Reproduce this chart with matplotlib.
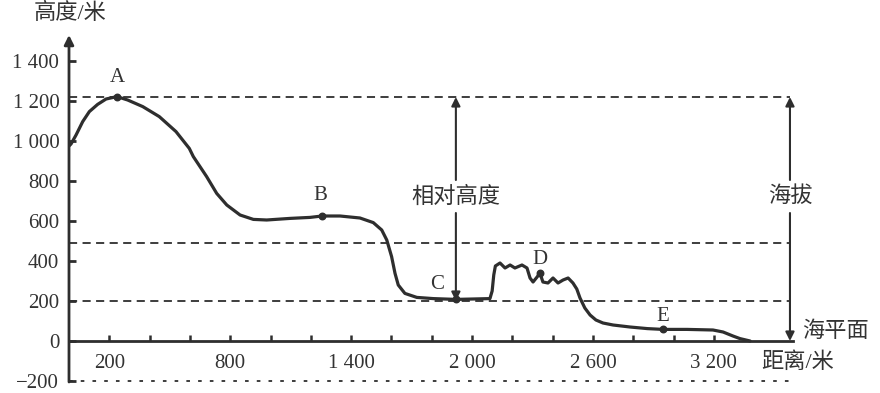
import matplotlib
matplotlib.use('Agg')
import matplotlib.pyplot as plt

plt.rcParams['font.family'] = ['Liberation Serif', 'Noto Sans CJK SC']

# terrain profile (distance m, height m)
dist = [0, 10, 35, 68, 101, 142, 184, 238, 291, 366, 448, 531, 597, 617,
        683, 733, 783, 849, 915, 981, 1097, 1196, 1256, 1345, 1444, 1510,
        1552, 1577, 1601, 1618, 1634, 1667, 1726, 1808, 1920, 2089,
        2100, 2108, 2116, 2139, 2164, 2189, 2213, 2248, 2273, 2288, 2303,
        2323, 2337, 2352, 2377, 2402, 2427, 2452, 2477, 2501, 2520, 2536,
        2560, 2586, 2615, 2650, 2700, 2784, 2870, 2948, 3067, 3196, 3246,
        3295, 3330, 3380]
height = [975, 985, 1030, 1097, 1147, 1183, 1210, 1222, 1205, 1172, 1122,
          1047, 963, 922, 822, 738, 680, 630, 608, 605, 613, 618, 625, 625,
          615, 592, 555, 505, 422, 338, 280, 238, 218, 212, 208, 212,
          250, 330, 375, 390, 365, 380, 365, 380, 365, 315, 295, 320, 340,
          295, 290, 315, 290, 305, 315, 290, 260, 215, 165, 130, 105, 90, 80,
          70, 62, 58, 58, 55, 45, 25, 12, 0]

points = ['A', 'B', 'C', 'D', 'E']
point_x = [238, 1256, 1920, 2337, 2948]
point_y = [1222, 625, 208, 340, 58]

yticks = [-200, 0, 200, 400, 600, 800, 1000, 1200, 1400]
ytick_labels = ['\u2212200', '0', '200', '400', '600', '800', '1 000', '1 200', '1 400']
xticks = list(range(200, 3400, 200))
xtick_labels = ['200', '', '', '800', '', '', '1 400', '', '', '2 000', '', '',
                '2 600', '', '', '3 200']

top_level = 1220
mid_level = 490
low_level = 200
base_level = -200
rel_x = 1920
alt_x = 3578

ink = '#2e2e2e'
txt = '#333333'

fig = plt.figure(figsize=(8.8, 3.93), dpi=100)
ax = fig.add_axes([69 / 880, 0, 806 / 880, 1])
ax.set_xlim(0, 4000)
ax.set_ylim(-260, 1705)

for s in ['top', 'right', 'left']:
    ax.spines[s].set_visible(False)
ax.spines['bottom'].set_position(('data', 0))
ax.spines['bottom'].set_bounds(0, alt_x + 15)
ax.spines['bottom'].set_linewidth(2)
ax.spines['bottom'].set_color(ink)

# y axis with arrow
ax.annotate('', xy=(0, 1530), xytext=(0, -205),
            arrowprops=dict(arrowstyle='-|>', lw=2, color=ink,
                            mutation_scale=14, shrinkA=0, shrinkB=0))

ax.set_yticks(yticks)
ax.set_yticklabels(ytick_labels)
ax.set_xticks(xticks)
ax.set_xticklabels(xtick_labels)
ax.tick_params(axis='y', direction='in', length=5, width=2, color=ink,
               labelsize=15, labelcolor=txt, pad=7)
ax.tick_params(axis='x', direction='in', length=4, width=1.8, color=ink,
               labelsize=15, labelcolor=txt, pad=9)

# reference lines
for lvl in [top_level, mid_level, low_level]:
    ax.plot([0, alt_x], [lvl, lvl], color=ink, lw=1.3, dashes=(4.5, 3))
ax.plot([0, alt_x + 15], [base_level, base_level], color=ink, lw=1.3, dashes=(2, 4.5))

# profile
ax.plot(dist, height, color=ink, lw=2.3, solid_joinstyle='round',
        solid_capstyle='round')
ax.scatter(point_x, point_y, s=22, color=ink, zorder=3)
label_dy = [95, 100, 75, 70, 65]
label_dx = [0, -10, -95, 0, 0]
for p, px, py, dx, dy in zip(points, point_x, point_y, label_dx, label_dy):
    ax.text(px + dx, py + dy, p, ha='center', va='center', fontsize=15,
            color=txt)

# relative height / altitude arrows
arrow_kw = dict(arrowstyle='-|>', lw=1.5, color=ink, mutation_scale=13,
                shrinkA=0, shrinkB=0)
ax.annotate('', xy=(rel_x, top_level), xytext=(rel_x, 805), arrowprops=arrow_kw)
ax.annotate('', xy=(rel_x, low_level), xytext=(rel_x, 640), arrowprops=arrow_kw)
ax.annotate('', xy=(alt_x, top_level), xytext=(alt_x, 805), arrowprops=arrow_kw)
ax.annotate('', xy=(alt_x, 0), xytext=(alt_x, 640), arrowprops=arrow_kw)

ax.text(rel_x, 720, '相对高度', ha='center', va='center', fontsize=16, color=txt)
ax.text(alt_x, 720, '海拔', ha='center', va='center', fontsize=16, color=txt)
ax.text(alt_x + 60, 45, '海平面', ha='left', va='center', fontsize=16, color=txt)
ax.text(3618, -110, '距离/米', ha='center', va='center', fontsize=16, color=txt)
ax.text(5, 1640, '高度/米', ha='center', va='center', fontsize=16, color=txt)

fig.savefig('out.png', dpi=100)
